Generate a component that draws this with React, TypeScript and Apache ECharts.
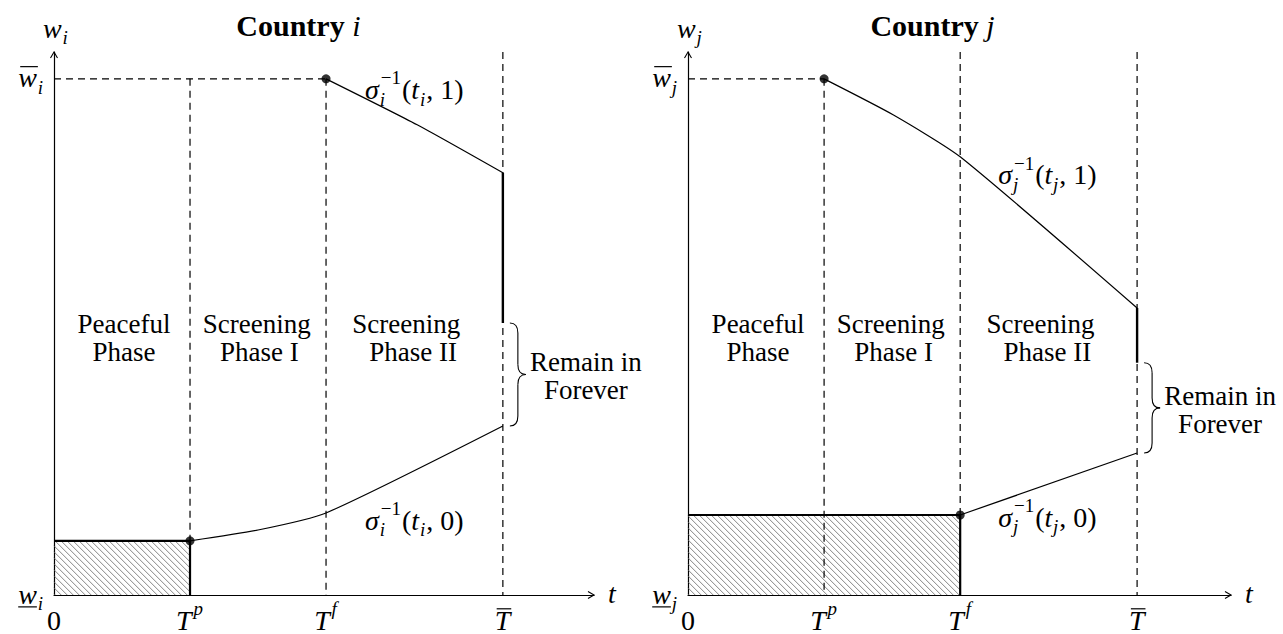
import React, { useEffect, useRef } from 'react';
import * as echarts from 'echarts';

// ---------- data (x in units of T^p, y in units of w̄) ----------
const tickValues = [0, 1, 2, 3.3];
const xMax = [3.97, 3.99];
const yMax = 1.052;
const wBar = 1;

// Country i
const upperI = [[2, 1], [2.67, 0.911], [3.3, 0.818]];
const jumpI = [[3.3, 0.818], [3.3, 0.527]];
const lowerI = [[1, 0.105], [1.5, 0.126], [2, 0.159], [3.3, 0.3275]];
const peaceI = [1, 0.105];
const dotsI = [[1, 0.105], [2, 1]];
const dashedI = [
  [[0, 1], [2, 1]],
  [[1, 1], [1, 0.105]],
  [[2, 1], [2, 0]],
  [[3.3, yMax], [3.3, 0]],
];

// Country j
const upperJ = [[1, 1], [1.51, 0.93], [2, 0.849], [3.3, 0.556]];
const jumpJ = [[3.3, 0.556], [3.3, 0.45]];
const lowerJ = [[2, 0.155], [3.3, 0.275]];
const peaceJ = [2, 0.155];
const dotsJ = [[1, 1], [2, 0.155]];
const dashedJ = [
  [[0, 1], [1, 1]],
  [[1, 1], [1, 0]],
  [[2, yMax], [2, 0.155]],
  [[3.3, yMax], [3.3, 0]],
];

const panels = [
  { s: 'i', upper: upperI, jump: jumpI, lower: lowerI, peace: peaceI, dots: dotsI, dashed: dashedI },
  { s: 'j', upper: upperJ, jump: jumpJ, lower: lowerJ, peace: peaceJ, dots: dotsJ, dashed: dashedJ },
];

const phaseLabels = [
  { a: 'Peaceful', ax: 0.515, b: 'Phase', bx: 0.515 },
  { a: 'Screening', ax: 1.49, b: 'Phase I', bx: 1.51 },
  { a: 'Screening', ax: 2.59, b: 'Phase II', bx: 2.64 },
];

// ---------- helpers ----------
const SERIF = '"Liberation Serif", "DejaVu Serif", serif';
const BASE = 28;
const TEXT = 27;
let mctx: CanvasRenderingContext2D | null = null;
function tw(text: string, size: number, it?: boolean, bold?: boolean) {
  if (!mctx) mctx = document.createElement('canvas').getContext('2d');
  mctx!.font = `${it ? 'italic ' : ''}${bold ? 'bold ' : ''}${size}px ${SERIF}`;
  return mctx!.measureText(text).width;
}
function txt(text: string, x: number, y: number, size: number, opts: any = {}) {
  return {
    type: 'text', x, y, silent: true,
    style: {
      text, fontFamily: SERIF, fontSize: size,
      fontStyle: opts.it ? 'italic' : 'normal',
      fontWeight: opts.bold ? 'bold' : 'normal',
      fill: '#000', align: opts.align || 'left', verticalAlign: 'middle',
    },
  };
}
type Tok = { t?: string; it?: boolean; bold?: boolean; sup?: string; sub?: string; bar?: boolean; under?: boolean };
function math(tokens: Tok[], x: number, y: number, align: 'left' | 'center' | 'right', size = BASE) {
  const S = Math.round(size * 0.68);
  const kids: any[] = [];
  let cx = 0;
  for (const tk of tokens) {
    if (tk.t) {
      const w = tw(tk.t, size, tk.it, tk.bold);
      kids.push(txt(tk.t, cx, 0, size, { it: tk.it, bold: tk.bold }));
      if (tk.bar) kids.push({ type: 'line', shape: { x1: cx + 2, y1: -0.4 * size, x2: cx + w + 1, y2: -0.4 * size }, style: { stroke: '#000', lineWidth: 1.2 } });
      if (tk.under) kids.push({ type: 'line', shape: { x1: cx, y1: 0.46 * size, x2: cx + w, y2: 0.46 * size }, style: { stroke: '#000', lineWidth: 1.2 } });
      cx += w + (tk.it ? size * 0.03 : 0);
    }
    if (tk.sup || tk.sub) {
      let w = 0;
      if (tk.sup) {
        const supIt = !/^[−\d]/.test(tk.sup);
        kids.push(txt(tk.sup, cx + 1, -0.42 * size, S, { it: supIt }));
        w = Math.max(w, tw(tk.sup, S, supIt) + 1);
      }
      if (tk.sub) {
        kids.push(txt(tk.sub, cx, 0.34 * size, S, { it: true }));
        w = Math.max(w, tw(tk.sub, S, true));
      }
      cx += w + 1;
    }
  }
  const ox = align === 'left' ? x : align === 'center' ? x - cx / 2 : x - cx;
  return { type: 'group', x: ox, y, children: kids, silent: true };
}
function brace(x0: number, y0: number, y1: number, w: number) {
  const xm = x0 + w / 2, xt = x0 + w, ym = (y0 + y1) / 2, r = Math.min(10, (y1 - y0) / 4);
  const st = { stroke: '#000', lineWidth: 1.1, fill: 'none' };
  const q = (x1: number, y1_: number, cpx: number, cpy: number, x2: number, y2: number) =>
    ({ type: 'bezierCurve', shape: { x1, y1: y1_, cpx1: cpx, cpy1: cpy, x2, y2 }, style: st, silent: true });
  return [
    q(x0, y0, xm, y0, xm, y0 + r),
    { type: 'line', shape: { x1: xm, y1: y0 + r, x2: xm, y2: ym - r }, style: st, silent: true },
    q(xm, ym - r, xm, ym, xt, ym),
    q(xt, ym, xm, ym, xm, ym + r),
    { type: 'line', shape: { x1: xm, y1: ym + r, x2: xm, y2: y1 - r }, style: st, silent: true },
    q(xm, y1 - r, xm, y1, x0, y1),
  ];
}

function hatchRender(params: any, api: any) {
  const tl = api.coord([0, api.value(1)]);
  const br = api.coord([api.value(0), 0]);
  const L = tl[0], T = tl[1], R = br[0], B = br[1];
  const children: any[] = [];
  const step = 6;
  for (let c = T - R + step / 2; c <= B - L; c += step) {
    const xa = Math.max(L, T - c), xb = Math.min(R, B - c);
    if (xb > xa) children.push({ type: 'line', shape: { x1: xa, y1: xa + c, x2: xb, y2: xb + c }, style: { stroke: '#666', lineWidth: 0.8 } });
  }
  children.push({ type: 'polyline', shape: { points: [[L, T], [R, T], [R, B]] }, style: { stroke: '#000', lineWidth: 2.2, fill: 'none' } });
  return { type: 'group', children };
}

export default function App() {
  const ref = useRef<HTMLDivElement>(null);
  useEffect(() => {
    const chart = echarts.init(ref.current!, null, { renderer: 'svg' });
    const grids = [
      { left: 54, top: 52, width: 540, height: 543, outerBoundsMode: 'none' },
      { left: 688, top: 52, width: 543, height: 543, outerBoundsMode: 'none' },
    ];
    const axisCommon = {
      type: 'value', axisTick: { show: false }, axisLabel: { show: false }, splitLine: { show: false },
      axisLine: { show: true, lineStyle: { color: '#000', width: 1.2 } },
    };
    const series: any[] = [];
    panels.forEach((p, gi) => {
      series.push({ type: 'custom', xAxisIndex: gi, yAxisIndex: gi, data: [p.peace], renderItem: hatchRender, silent: true, z: 1 });
      p.dashed.forEach((seg) => series.push({
        type: 'line', xAxisIndex: gi, yAxisIndex: gi, data: seg, symbol: 'none', silent: true, z: 2,
        lineStyle: { color: '#000', width: 1.2, type: [7, 5] },
      }));
      [p.upper, p.lower].forEach((d) => series.push({
        type: 'line', xAxisIndex: gi, yAxisIndex: gi, data: d, symbol: 'none', silent: true, z: 3, smooth: 0.2,
        lineStyle: { color: '#000', width: 1.2 },
      }));
      series.push({
        type: 'line', xAxisIndex: gi, yAxisIndex: gi, data: p.jump, symbol: 'none', silent: true, z: 3,
        lineStyle: { color: '#000', width: 2.4 },
      });
      series.push({
        type: 'scatter', xAxisIndex: gi, yAxisIndex: gi, data: p.dots, symbolSize: 9, silent: true, z: 4,
        itemStyle: { color: '#000' },
      });
    });
    chart.setOption({
      animation: false,
      backgroundColor: '#fff',
      grid: grids,
      xAxis: [0, 1].map((gi) => ({ ...axisCommon, gridIndex: gi, min: 0, max: xMax[gi] })),
      yAxis: [0, 1].map((gi) => ({ ...axisCommon, gridIndex: gi, min: 0, max: yMax })),
      series,
    });

    const P = (gi: number, x: number, y: number) => chart.convertToPixel({ gridIndex: gi } as any, [x, y]) as number[];
    const els: any[] = [];
    panels.forEach((p, gi) => {
      const s = p.s;
      // arrowheads
      const yt = P(gi, 0, yMax);
      els.push({ type: 'polyline', shape: { points: [[yt[0] - 3.5, yt[1] + 6], [yt[0], yt[1]], [yt[0] + 3.5, yt[1] + 6]] }, style: { stroke: '#000', lineWidth: 1.1, fill: 'none' }, silent: true });
      const xt = P(gi, xMax[gi], 0);
      els.push({ type: 'polyline', shape: { points: [[xt[0] - 6, xt[1] - 3.5], [xt[0], xt[1]], [xt[0] - 6, xt[1] + 3.5]] }, style: { stroke: '#000', lineWidth: 1.1, fill: 'none' }, silent: true });
      // title
      const tc = P(gi, 1.8, yMax);
      els.push(math([{ t: 'Country ', bold: true }, { t: s, it: true }], tc[0], tc[1] - 27, 'center', 30));
      // axis names
      els.push(math([{ t: 'w', it: true }, { sub: s }], yt[0] + 2, yt[1] - 24, 'center'));
      els.push(math([{ t: 't', it: true }], xt[0] + 14, xt[1] - 2, 'left'));
      // y labels
      const wb = P(gi, 0, wBar);
      els.push(math([{ t: 'w', it: true, bar: true }, { sub: s }], wb[0] - 10, wb[1] - 1, 'right'));
      const w0 = P(gi, 0, 0);
      els.push(math([{ t: 'w', it: true, under: true }, { sub: s }], w0[0] - 10, w0[1] - 1, 'right'));
      // x tick labels
      const tickToks: Tok[][] = [
        [{ t: '0' }],
        [{ t: 'T', it: true }, { sup: 'p' }],
        [{ t: 'T', it: true }, { sup: 'f' }],
        [{ t: 'T', it: true, bar: true }],
      ];
      tickValues.forEach((v, k) => {
        const q = P(gi, v, 0);
        els.push(math(tickToks[k], q[0], q[1] + 25, 'center'));
      });
      // phase labels
      phaseLabels.forEach((ph) => {
        const a = P(gi, ph.ax, 0.5), b = P(gi, ph.bx, 0.5);
        els.push(txt(ph.a, a[0], a[1] - 13, TEXT, { align: 'center' }));
        els.push(txt(ph.b, b[0], b[1] + 15, TEXT, { align: 'center' }));
      });
      // curve labels
      const up = gi === 0 ? P(gi, 2.287, 0.979) : P(gi, 2.28, 0.814);
      const lo = gi === 0 ? P(gi, 2.287, 0.145) : P(gi, 2.28, 0.151);
      const lab = (v: string): Tok[] => [{ t: 'σ', it: true }, { sup: '−1', sub: s }, { t: '(' }, { t: 't', it: true }, { sub: s }, { t: ', ' + v + ')' }];
      els.push(math(lab('1'), up[0], up[1], 'left'));
      els.push(math(lab('0'), lo[0], lo[1], 'left'));
      // brace + remain text
      const top = P(gi, p.jump[1][0], p.jump[1][1]);
      const bot = P(gi, p.lower[p.lower.length - 1][0], p.lower[p.lower.length - 1][1]);
      const bx0 = top[0] + 7, bw = 16;
      els.push(...brace(bx0, top[1], bot[1], bw));
      const ym = (top[1] + bot[1]) / 2;
      els.push(txt('Remain in', bx0 + bw + 60, ym - 12, TEXT, { align: 'center' }));
      els.push(txt('Forever', bx0 + bw + 60, ym + 16, TEXT, { align: 'center' }));
    });
    chart.setOption({ graphic: { elements: els } });
    return () => chart.dispose();
  }, []);
  return <div ref={ref} style={{ position: 'absolute', left: 0, top: 0, width: 1283, height: 634, background: '#fff' }} />;
}
